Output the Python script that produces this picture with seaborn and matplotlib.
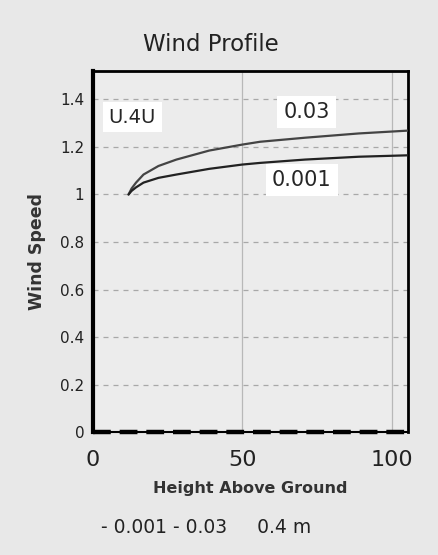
import matplotlib
matplotlib.use("Agg")
import matplotlib.pyplot as plt
import seaborn as sns
import pandas as pd
import numpy as np

heights = [12, 13, 14.5, 17, 22, 28, 39, 50, 56, 71, 89, 105.5]
u_003 = [1.0, 1.025, 1.05, 1.084, 1.12, 1.147, 1.185, 1.21, 1.222, 1.239, 1.257, 1.269]
u_0001 = [1.0, 1.015, 1.03, 1.05, 1.07, 1.084, 1.108, 1.126, 1.133, 1.147, 1.159, 1.165]
ground_h = [0, 105.5]
ground_u = [0.0, 0.0]

x_ticks = [0, 50, 100]
y_ticks = [0, 0.2, 0.4, 0.6, 0.8, 1.0, 1.2, 1.4]
y_tick_labels = ["0", "0.2", "0.4", "0.6", "0.8", "1", "1.2", "1.4"]

sns.set_style("white")
plt.rcParams['font.family'] = ['DejaVu Sans']

df = pd.DataFrame({
    "Height": heights * 2,
    "Speed": u_003 + u_0001,
    "z0": ["0.03"] * len(heights) + ["0.001"] * len(heights),
})

fig = plt.figure(figsize=(4.38, 5.55), dpi=100, facecolor="#e8e8e8")
ax = fig.add_axes([0.2116, 0.2216, 0.72, 0.6505])
ax.set_facecolor("#ececec")

# grid
for y in y_ticks[1:]:
    ax.axhline(y, color="#a8a8a8", lw=0.9, ls=(0, (4, 4)), zorder=0)
for x in [50, 100]:
    ax.axvline(x, color="#b8b8b8", lw=0.9, zorder=0)

sns.lineplot(data=df, x="Height", y="Speed", hue="z0",
             palette={"0.03": "#444444", "0.001": "#222222"},
             lw=1.6, ax=ax, legend=False, zorder=3)
ax.plot(ground_h, ground_u, color="black", lw=3.2, ls=(0, (4, 2)), zorder=4,
        clip_on=False)

ax.set_xlim(0, 105.5)
ax.set_ylim(0, 1.52)
ax.set_xticks(x_ticks)
ax.set_xticklabels([str(t) for t in x_ticks], fontsize=16, color="#222222")
ax.set_yticks(y_ticks)
ax.set_yticklabels(y_tick_labels, fontsize=11, color="#222222")
ax.tick_params(axis="y", direction="out", length=3, width=0.8, color="#888888", pad=3)
ax.tick_params(axis="x", direction="out", length=3, width=0.8, color="#888888", pad=10)
ax.set_xticks(np.arange(0, 106, 5), minor=True)
ax.tick_params(axis="x", which="minor", direction="out", length=3, width=0.6, color="#aaaaaa")

for side, lw in [("left", 3.0), ("bottom", 1.5), ("top", 2.0), ("right", 2.0)]:
    ax.spines[side].set_visible(True)
    ax.spines[side].set_linewidth(lw)
    ax.spines[side].set_color("black")

ax.set_xlabel("Height Above Ground", fontsize=11.5, fontweight="bold",
              color="#333333", labelpad=8)
ax.set_ylabel("Wind Speed", fontsize=12.5, fontweight="bold",
              color="#333333", labelpad=10)

box = dict(boxstyle="square,pad=0.3", fc="white", ec="none")
ax.text(13.3, 1.326, "U.4U", fontsize=14, ha="center", va="center", bbox=box, zorder=5)
ax.text(71.6, 1.347, "0.03", fontsize=15, ha="center", va="center", bbox=box, zorder=5)
ax.text(70, 1.062, "0.001", fontsize=15, ha="center", va="center", bbox=box, zorder=5)

fig.text(0.482, 0.919, "Wind Profile", fontsize=16.5, ha="center", va="center", color="#222222")
fig.text(0.47, 0.05, "- 0.001 - 0.03     0.4 m", fontsize=13.5, ha="center", va="center",
         color="#222222")

fig.savefig("out.png", dpi=100, facecolor=fig.get_facecolor())
